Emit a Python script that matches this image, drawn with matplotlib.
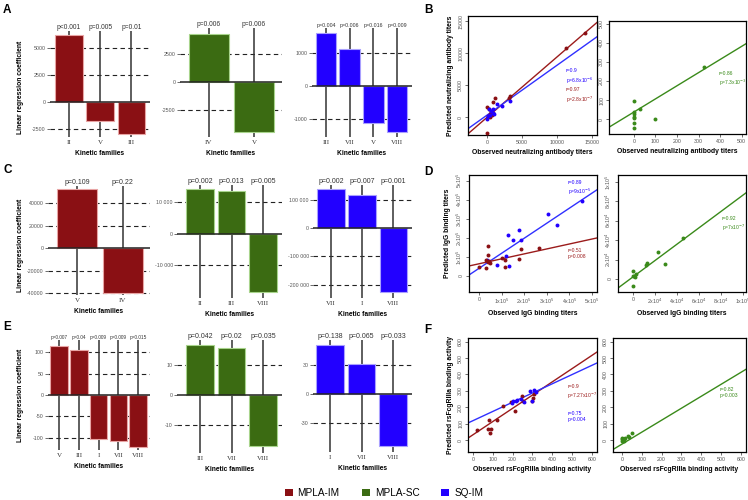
import numpy as np
import matplotlib
matplotlib.use('Agg')
import matplotlib.pyplot as plt
from matplotlib.patches import Patch

plt.rcParams['font.family'] = ['Liberation Sans', 'DejaVu Sans']

# colours of the three groups
red = '#8a1014'
green = '#3b6b12'
blue = '#2200ff'
red_edge = '#e8a4a4'
green_edge = '#a8d48c'
blue_edge = '#a9a0ff'

# ---- bar panels (kinetic families, linear regression coefficients)
a1_fam = ['II', 'V', 'III']
a1_coef = [6200, -1760, -2960]
a1_p = ['p<0.001', 'p=0.005', 'p=0.01']
a2_fam = ['IV', 'V']
a2_coef = [4290, -4460]
a2_p = ['p=0.006', 'p=0.006']
a3_fam = ['III', 'VII', 'V', 'VIII']
a3_coef = [1600, 1120, -1120, -1390]
a3_p = ['p=0.004', 'p=0.006', 'p=0.016', 'p=0.009']

c1_fam = ['V', 'IV']
c1_coef = [52400, -39500]
c1_p = ['p=0.109', 'p=0.22']
c2_fam = ['II', 'III', 'VIII']
c2_coef = [14300, 13700, -18400]
c2_p = ['p=0.002', 'p=0.013', 'p=0.005']
c3_fam = ['VII', 'I', 'VIII']
c3_coef = [137000, 116000, -227000]
c3_p = ['p=0.002', 'p=0.007', 'p=0.001']

e1_fam = ['V', 'III', 'I', 'VII', 'VIII']
e1_coef = [114, 105, -102, -107, -121]
e1_p = ['p=0.007', 'p=0.04', 'p=0.009', 'p=0.009', 'p=0.015']
e2_fam = ['III', 'VII', 'VIII']
e2_coef = [16.5, 15.7, -17]
e2_p = ['p=0.042', 'p=0.02', 'p=0.035']
e3_fam = ['I', 'VII', 'VIII']
e3_coef = [50.7, 31, -54]
e3_p = ['p=0.138', 'p=0.065', 'p=0.033']

# ---- scatter panels (observed vs predicted)
b1_im_obs = [14000, 11300, 3300, 1100, 800, 0, 300, 0, 500, 700, 400, 600, 900, 3200, 200]
b1_im_pred = [13100, 10800, 3300, 3000, 2400, 1500, 1200, -2500, 0, 300, 500, 800, 700, 3000, 200]
b1_sq_obs = [3300, 2200, 1500, 800, 900, 0, 100, 300, 600, 500, 1000]
b1_sq_pred = [2500, 1800, 2100, 1200, 600, -300, 200, 1300, 900, 400, 500]
b2_sc_obs = [325, 0, 0, 0, 0, 0, 0, 0, 30, 100]
b2_sc_pred = [275, 95, 35, 25, 10, 5, -20, -45, 55, 3]

d1_sq_obs = [455000, 305000, 345000, 175000, 130000, 150000, 185000, 120000, 80000, 135000, 35000]
d1_sq_pred = [395000, 325000, 265000, 240000, 215000, 190000, 190000, 105000, 60000, 50000, 85000]
d1_im_obs = [40000, 40000, 30000, 40000, 50000, 0, 30000, 100000, 115000, 115000, 175000, 185000, 265000, 45000]
d1_im_pred = [160000, 110000, 85000, 75000, 70000, 45000, 40000, 95000, 85000, 45000, 90000, 140000, 145000, 80000]
d2_sc_obs = [46000, 23000, 29000, 13000, 12000, 0, 0, 2000, 3000, 0, 1000]
d2_sc_pred = [42000, 27500, 15500, 16000, 14500, 8000, -7500, 2500, 5000, 3500, 3000]

f1_im_obs = [20, 80, 75, 90, 85, 120, 150, 190, 210, 250, 300, 305, 310, 255]
f1_im_pred = [60, 125, 70, 70, 40, 120, 210, 230, 180, 270, 240, 255, 280, 240]
f1_sq_obs = [200, 220, 240, 260, 290, 310, 320, 300, 195, 215]
f1_sq_pred = [235, 245, 250, 230, 300, 305, 295, 235, 225, 235]
f2_sc_obs = [0, 5, 10, 0, 15, 10, 30, 35, 50, 0, 5]
f2_sc_pred = [10, 0, 5, -5, 10, -3, 25, 20, 45, 5, 8]

# fitted lines: (slope, intercept)
b1_im_fit = (0.945, -50)
b1_sq_fit = (0.78, 300)
b2_sc_fit = (0.69, 37)
d1_sq_fit = (0.79, 40000)
d1_im_fit = (0.26, 64000)
d2_sc_fit = (0.84, 2100)
f1_im_fit = (0.806, 32)
f1_sq_fit = (0.562, 118)
f2_sc_fit = (0.73, -25)

W, H = 748, 500
fig = plt.figure(figsize=(W / 100, H / 100), dpi=100)

TICK = 3.8
ANNOT = 3.6
AXLAB = 4.9


def add_box(left, top, right, bottom):
    return fig.add_axes([left / W, 1 - bottom / H, (right - left) / W, (bottom - top) / H])


def bar_panel(box, fam, coef, pvals, color, edge, ticks, ticklabels, xlim, ylim, psize=4.8):
    ax = add_box(*box)
    x = np.arange(len(fam))
    for t in ticks:
        if t != 0:
            ax.axhline(t, color='#222222', ls=(0, (4, 3)), lw=0.8, zorder=0)
    ax.vlines(x, ylim[0], ylim[1], color='#333333', lw=1.1, zorder=1)
    ax.bar(x, coef, width=0.88, color=color, edgecolor=edge, lw=0.8, zorder=2)
    ax.axhline(0, color='#222222', lw=1.1, zorder=3)
    ax.set_xlim(xlim)
    ax.set_ylim(ylim)
    for s in ax.spines.values():
        s.set_visible(False)
    ax.set_yticks(ticks)
    ax.set_yticklabels(ticklabels, fontsize=TICK, color='#555555')
    ax.tick_params(axis='y', length=2, pad=1, color='#555555', width=0.6)
    ax.set_xticks(x)
    ax.set_xticklabels(fam, fontsize=5, family='Liberation Serif', color='#333333')
    ax.tick_params(axis='x', length=0, pad=2)
    for xi, p in zip(x, pvals):
        ax.text(xi, ylim[1], p, ha='center', va='bottom', fontsize=psize, color='#333333')
    ax.set_xlabel('Kinetic families', fontsize=4.8, fontweight='bold', labelpad=4)
    return ax


def scatter_panel(box, xlim, ylim, xticks, xtl, yticks, ytl, xlabel, ylabel):
    ax = add_box(*box)
    ax.set_xlim(xlim)
    ax.set_ylim(ylim)
    ax.set_xticks(xticks)
    ax.set_xticklabels(xtl, fontsize=TICK, color='#555555')
    ax.set_yticks(yticks)
    ax.set_yticklabels(ytl, fontsize=TICK, color='#555555', rotation=90, va='center')
    ax.tick_params(length=2, pad=1.5, width=0.6, color='#555555')
    for s in ax.spines.values():
        s.set_linewidth(0.9)
    ax.set_xlabel(xlabel, fontsize=AXLAB, fontweight='bold', labelpad=3)
    if ylabel:
        ax.set_ylabel(ylabel, fontsize=AXLAB, fontweight='bold', labelpad=3)
    return ax


def fit_line(ax, fit, color):
    ax.axline((0, fit[1]), slope=fit[0], color=color, lw=1.0, zorder=2)


def note(ax, x, y, txt, color):
    ax.text(x, y, txt, transform=ax.transAxes, fontsize=ANNOT, color=color, va='top', linespacing=1.3)


# ---------------- row A / B
bar_panel((50, 31, 150, 137), a1_fam, a1_coef, a1_p, red, red_edge,
          [-2500, 0, 2500, 5000], ['-2500', '0', '2500', '5000'], (-0.61, 2.6), (-3240, 6570))
bar_panel((180, 28, 282, 137), a2_fam, a2_coef, a2_p, green, green_edge,
          [-2500, 0, 2500], ['-2500', '0', '2500'], (-0.64, 1.62), (-4900, 4820))
bar_panel((312, 28, 412, 137), a3_fam, a3_coef, a3_p, blue, blue_edge,
          [-1000, 0, 1000], ['-1000', '0', '1000'], (-0.59, 3.63), (-1540, 1750), psize=3.8)

ax = scatter_panel((468, 16, 597, 135), (-2710, 15710), (-2800, 15800),
                   [0, 5000, 10000, 15000], ['0', '5000', '10000', '15000'],
                   [0, 5000, 10000, 15000], ['0', '5000', '10000', '15000'],
                   'Observed neutralizing antibody titers', 'Predicted neutralizing antibody titers')
fit_line(ax, b1_im_fit, '#9b1b1b')
fit_line(ax, b1_sq_fit, '#3030ff')
ax.scatter(b1_im_obs, b1_im_pred, s=8, color=red, zorder=3, lw=0)
ax.scatter(b1_sq_obs, b1_sq_pred, s=8, color=blue, zorder=3, lw=0)
note(ax, 0.76, 0.56, 'r=0.9\np=6.8x10$^{-6}$', blue)
note(ax, 0.76, 0.40, 'r=0.97\np=2.8x10$^{-7}$', '#9b1b1b')

ax = scatter_panel((609, 21, 746, 134), (-115, 520), (-78, 515),
                   [0, 100, 200, 300, 400, 500], ['0', '100', '200', '300', '400', '500'],
                   [0, 100, 200, 300, 400, 500], ['0', '100', '200', '300', '400', '500'],
                   'Observed neutralizing antibody titers', None)
fit_line(ax, b2_sc_fit, '#3a8a1a')
ax.scatter(b2_sc_obs, b2_sc_pred, s=8, color='#3a8a1a', zorder=3, lw=0)
note(ax, 0.80, 0.56, 'r=0.86\np=7.3x10$^{-3}$', '#3a8a1a')

# ---------------- row C / D
bar_panel((48, 186, 150, 295), c1_fam, c1_coef, c1_p, red, red_edge,
          [-40000, -20000, 0, 20000, 40000], ['-40000', '-20000', '0', '20000', '40000'],
          (-0.63, 1.59), (-41500, 55000), psize=5.0)
bar_panel((177, 185, 282, 298), c2_fam, c2_coef, c2_p, green, green_edge,
          [-10000, 0, 10000], ['-10 000', '0', '10 000'], (-0.73, 2.6), (-20300, 15500), psize=5.0)
bar_panel((313, 185, 412, 298), c3_fam, c3_coef, c3_p, blue, blue_edge,
          [-200000, -100000, 0, 100000], ['-200 000', '-100 000', '0', '100 000'],
          (-0.58, 2.6), (-247000, 152000), psize=5.0)

d1_t = [0, 100000, 200000, 300000, 400000, 500000]
d1_tl = ['0', '1x10$^5$', '2x10$^5$', '3x10$^5$', '4x10$^5$', '5x10$^5$']
ax = scatter_panel((469, 175, 597, 292), (-44000, 522000), (-84000, 530000),
                   d1_t, d1_tl, d1_t, d1_tl, 'Observed IgG binding titers', 'Predicted IgG binding titers')
fit_line(ax, d1_sq_fit, '#3030ff')
fit_line(ax, d1_im_fit, '#9b1b1b')
ax.scatter(d1_sq_obs, d1_sq_pred, s=8, color=blue, zorder=3, lw=0)
ax.scatter(d1_im_obs, d1_im_pred, s=8, color=red, zorder=3, lw=0)
note(ax, 0.77, 0.96, 'r=0.89\np=9x10$^{-5}$', blue)
note(ax, 0.77, 0.38, 'r=0.51\np=0.008', '#9b1b1b')

d2_t = [0, 20000, 40000, 60000, 80000, 100000]
d2_tl = ['0', '2x10$^4$', '4x10$^4$', '6x10$^4$', '8x10$^4$', '1x10$^5$']
ax = scatter_panel((618, 175, 746, 292), (-13600, 103000), (-13400, 107000),
                   d2_t, d2_tl, d2_t, d2_tl, 'Observed IgG binding titers', None)
fit_line(ax, d2_sc_fit, '#3a8a1a')
ax.scatter(d2_sc_obs, d2_sc_pred, s=8, color='#3a8a1a', zorder=3, lw=0)
note(ax, 0.81, 0.65, 'r=0.92\np=7x10$^{-7}$', '#3a8a1a')

# ---------------- row E / F
bar_panel((48, 340, 150, 450), e1_fam, e1_coef, e1_p, red, red_edge,
          [-100, -50, 0, 50, 100], ['-100', '-50', '0', '50', '100'], (-0.56, 4.6), (-128, 128), psize=3.4)
bar_panel((177, 340, 282, 453), e2_fam, e2_coef, e2_p, green, green_edge,
          [-10, 0, 10], ['-10', '0', '10'], (-0.73, 2.6), (-19.3, 18.3), psize=5.0)
bar_panel((313, 340, 412, 452), e3_fam, e3_coef, e3_p, blue, blue_edge,
          [-30, 0, 30], ['-30', '0', '30'], (-0.54, 2.6), (-60, 56), psize=5.0)

f_t = [0, 100, 200, 300, 400, 500, 600]
f_tl = ['0', '100', '200', '300', '400', '500', '600']
ax = scatter_panel((468, 338, 597, 452), (-25, 626), (-73, 622),
                   f_t, f_tl, f_t, f_tl, 'Observed rsFcgRIIIa binding activity', 'Predicted rsFcgRIIIa binding activity')
fit_line(ax, f1_im_fit, '#9b1b1b')
fit_line(ax, f1_sq_fit, '#3030ff')
ax.scatter(f1_im_obs, f1_im_pred, s=8, color=red, zorder=3, lw=0)
ax.scatter(f1_sq_obs, f1_sq_pred, s=8, color=blue, zorder=3, lw=0)
note(ax, 0.77, 0.60, 'r=0.9\np=7.27x10$^{-7}$', '#9b1b1b')
note(ax, 0.77, 0.36, 'r=0.75\np=0.004', blue)

ax = scatter_panel((613, 338, 746, 452), (-45, 625), (-73, 622),
                   f_t, f_tl, f_t, f_tl, 'Observed rsFcgRIIIa binding activity', None)
fit_line(ax, f2_sc_fit, '#3a8a1a')
ax.scatter(f2_sc_obs, f2_sc_pred, s=8, color='#3a8a1a', zorder=3, lw=0)
note(ax, 0.80, 0.57, 'r=0.82\np=0.003', '#3a8a1a')

# ---------------- shared labels, panel letters, legend
for yc in [87, 245, 395]:
    fig.text(21 / W, 1 - yc / H, 'Linear regression coefficient', rotation=90,
             ha='center', va='center', fontsize=4.9, fontweight='bold')

for letter, (px, py) in zip('ABCDEF', [(3, 10), (424, 10), (3, 170), (424, 172), (3, 327), (424, 330)]):
    fig.text(px / W, 1 - py / H, letter, fontsize=8.5, fontweight='bold', va='center')

handles = [Patch(facecolor=red, edgecolor='none'),
           Patch(facecolor=green, edgecolor='none'),
           Patch(facecolor=blue, edgecolor='none')]
fig.legend(handles, ['MPLA-IM', 'MPLA-SC', 'SQ-IM'], loc='center', bbox_to_anchor=(384 / W, 1 - 493 / H),
           ncol=3, frameon=False, fontsize=7.2, handlelength=0.8, handleheight=0.8,
           handletextpad=0.5, columnspacing=2.2)

fig.savefig('out.png', dpi=100)
